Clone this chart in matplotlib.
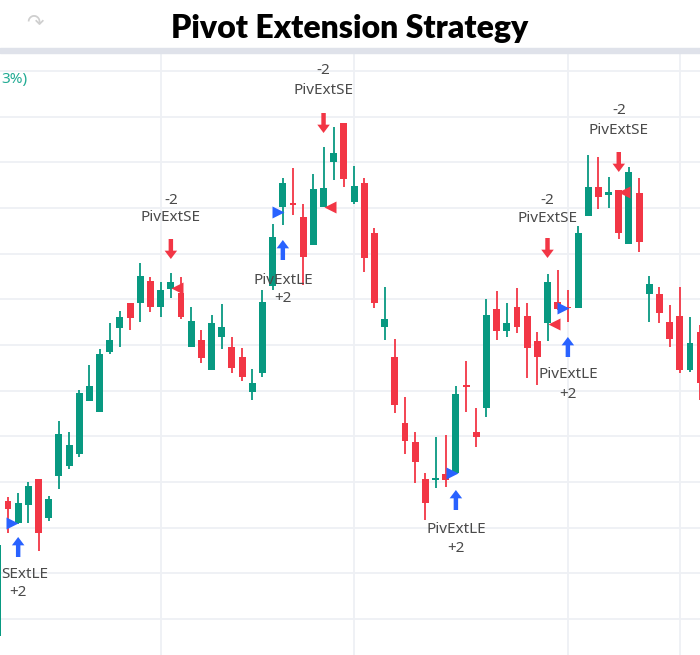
import matplotlib
matplotlib.use("Agg")
import matplotlib.pyplot as plt
import numpy as np

# OHLC (price units, bar index 0..69)
opens = [64, 199, 177, 195, 221, 182, 224, 234, 246, 299,
         288, 348, 372, 397, 397, 419, 393, 411, 407, 353,
         360, 330, 363, 353, 343, 308, 327, 414, 493, 497,
         483, 455, 493, 538, 577, 498, 517, 467, 373, 343,
         277, 258, 221, 220.5, 226, 227, 314.5, 268, 292, 391,
         369, 393, 384, 359, 377, 398, 393, 392, 484, 513,
         505, 510, 456, 507, 406, 406, 378, 384, 330, 368]
closes = [155, 191, 197, 214, 167, 201, 266, 255, 307, 314,
          346, 360, 383, 382, 424, 393, 410, 418, 383, 379,
          342, 377, 373, 332, 323, 317, 398, 463, 517, 495,
          443, 511, 512, 547, 521, 514, 442, 397, 381, 295,
          259, 238, 197, 221.5, 220, 306, 313.5, 263, 385, 369,
          377, 373, 352, 343, 418, 391, 392, 467, 513, 503,
          508, 467, 528, 458, 416, 387, 361, 330, 357, 317]
highs = [160, 203, 207, 218, 221, 204, 279, 268, 310, 335,
         351, 377, 389, 397, 437, 423, 418, 427, 423, 393,
         370, 385, 396, 363, 352, 331, 410, 476, 522, 532,
         496, 526, 553, 573, 577, 534, 522, 472, 413, 361,
         303, 268, 227, 263, 265, 314, 339, 292, 401, 409,
         397, 412, 397, 368, 426, 430, 410, 474, 545, 543,
         523, 510, 533, 522, 424, 413, 395, 413, 383, 375]
lows = [60, 167, 176, 177, 149, 179, 211, 231, 243, 299,
        288, 346, 353, 370, 378, 388, 383, 402, 381, 353,
        337, 330, 351, 327, 319, 300, 323, 410, 475, 485,
        415, 455, 493, 520, 513, 496, 428, 392, 360, 287,
        246, 217, 180, 212, 213, 226, 288, 253, 283, 360,
        363, 367, 322, 315, 359, 390, 378, 392, 484, 491,
        492, 461, 456, 448, 378, 377, 353, 327, 328, 300]

# strategy signals
long_bars = [2, 28, 45, 56]
long_tri_x = [1.44, 27.5, 44.6, 55.5]
long_tri_y = [177, 488, 227.5, 392.5]
long_arrow_top = [163, 460, 210, 363]
long_label = ["SExtLE", "PivExtLE", "PivExtLE", "PivExtLE"]
long_label_y = [125, 420, 170.5, 325.5]
long_qty_y = [107, 401, 151.5, 305]

short_bars = [17, 32, 54, 61]
short_tri_x = [17.6, 32.6, 54.6, 61.5]
short_tri_y = [412, 493, 376, 508]
short_arrow_top = [461, 587, 462, 548]
short_label_y = [482.5, 610, 481.5, 569]
short_qty_y = [500, 629, 500, 589]

UP = "#089981"
DOWN = "#F23645"
BLUE = "#2962FF"
TXT = "#4a4a4a"

fig = plt.figure(figsize=(7, 6.55), dpi=100)
fig.patch.set_facecolor("white")

fig.text(0.5, 1 - 38 / 655, "Pivot Extension Strategy", ha="center", va="baseline",
         fontsize=23, fontweight="heavy", family="Lato", color="black")
fig.text(35 / 700, 1 - 22 / 655, "\u21b7", ha="center", va="center",
         fontsize=15, color="#cfcfcf", family="DejaVu Sans")
fig.patches.append(plt.Rectangle((0, 1 - 53 / 655), 1, 5 / 655, transform=fig.transFigure,
                                 color="#dfe2ea", zorder=0))

ax = fig.add_axes([0, 0, 1, (655 - 53) / 655])
ax.set_xlim(0.216, 68.98)
ax.set_ylim(45, 647)
for s in ax.spines.values():
    s.set_visible(False)
ax.set_xticks([])
ax.set_yticks([])

for yy in np.arange(629, 20, -45.67):
    ax.axhline(yy, color="#eef0f4", lw=1.3, zorder=0)
for xx in [16, 35, 56, 67]:
    ax.axvline(xx, color="#eef0f4", lw=1.3, zorder=0)

o = np.array(opens, float)
c = np.array(closes, float)
h = np.array(highs, float)
l = np.array(lows, float)
idx = np.arange(len(o))
cols = np.where(c > o, UP, DOWN)
ax.vlines(idx, l, h, colors=cols, lw=1.3, zorder=2)
body = np.maximum(np.abs(c - o), 1.5)
ax.bar(idx, body, bottom=np.minimum(o, c) - (body - np.abs(c - o)) / 2,
       width=0.68, color=cols, zorder=3)

ax.text(0.35, 620, "3%)", ha="left", va="center", fontsize=11, color="#22ab94", family="Noto Sans")

arrow = "simple,head_length=0.6,head_width=0.9,tail_width=0.32"
for i in range(len(long_bars)):
    ax.plot(long_tri_x[i], long_tri_y[i], marker=">", ms=8, color=BLUE, mec="none", zorder=5)
    ax.annotate("", xy=(long_bars[i], long_arrow_top[i]), xytext=(long_bars[i], long_arrow_top[i] - 20),
                arrowprops=dict(arrowstyle=arrow, color=BLUE, lw=0, mutation_scale=10,
                                shrinkA=0, shrinkB=0), zorder=5)
    if i == 0:
        ax.text(0.3, long_label_y[i], long_label[i], ha="left", va="center", fontsize=11,
                color=TXT, family="Noto Sans")
    else:
        ax.text(long_bars[i], long_label_y[i], long_label[i], ha="center", va="center",
                fontsize=11, color=TXT, family="Noto Sans")
    ax.text(long_bars[i], long_qty_y[i], "+2", ha="center", va="center", fontsize=11,
            color=TXT, family="Noto Sans")

for i in range(len(short_bars)):
    ax.plot(short_tri_x[i], short_tri_y[i], marker="<", ms=8, color=DOWN, mec="none", zorder=5)
    ax.annotate("", xy=(short_bars[i], short_arrow_top[i] - 20), xytext=(short_bars[i], short_arrow_top[i]),
                arrowprops=dict(arrowstyle=arrow, color=DOWN, lw=0, mutation_scale=10,
                                shrinkA=0, shrinkB=0), zorder=5)
    ax.text(short_bars[i], short_label_y[i], "PivExtSE", ha="center", va="center", fontsize=11,
            color=TXT, family="Noto Sans")
    ax.text(short_bars[i], short_qty_y[i], "-2", ha="center", va="center", fontsize=11,
            color=TXT, family="Noto Sans")

fig.savefig("out.png", dpi=100, facecolor="white")
